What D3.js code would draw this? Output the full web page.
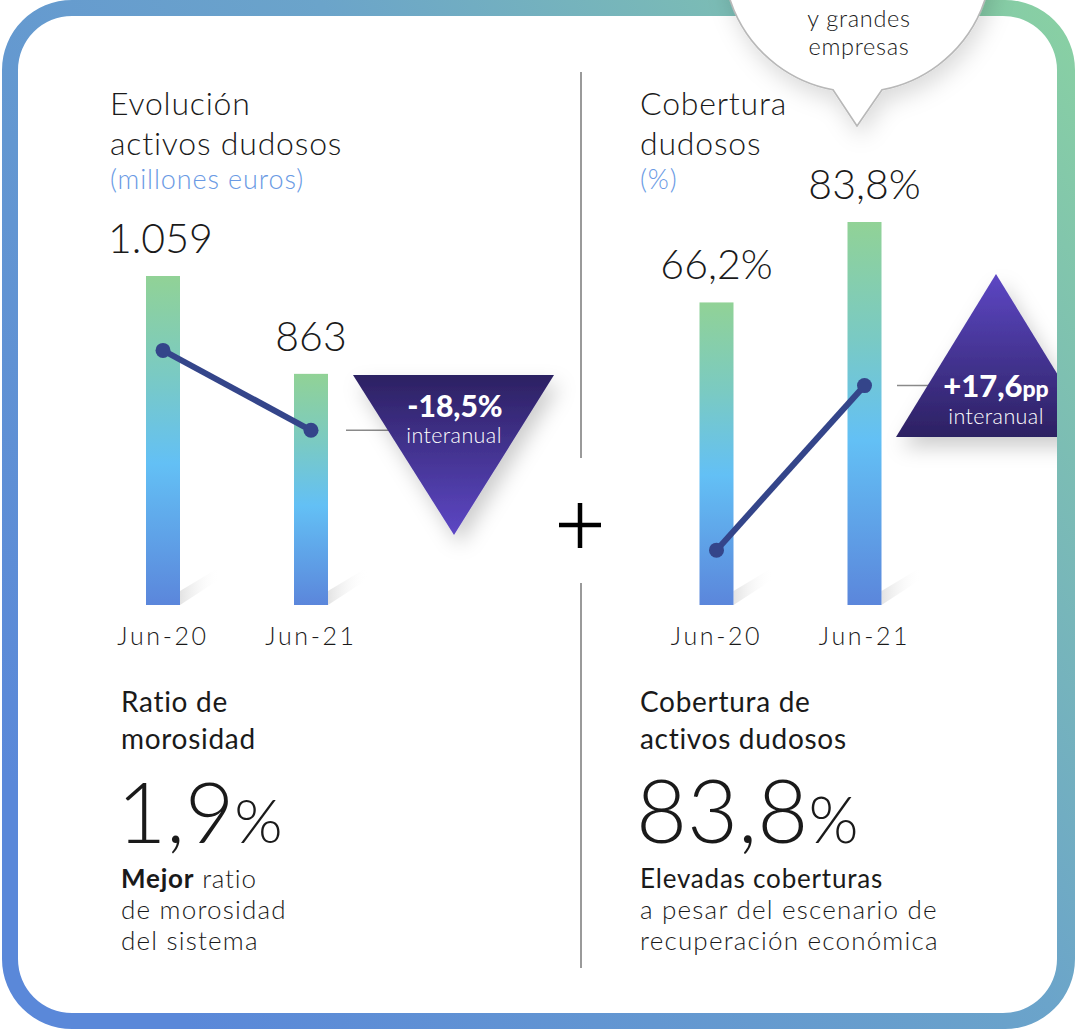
<!DOCTYPE html>
<html>
<head>
<meta charset="utf-8">
<script src="https://cdn.jsdelivr.net/npm/d3@7/dist/d3.min.js"></script>
<style>
  html, body { margin: 0; padding: 0; background: #ffffff; }
  svg { display: block; }
  text { font-family: Lato, "Open Sans", sans-serif; }
</style>
</head>
<body>
<svg id="chart" width="1076" height="1030"></svg>
<script>
// ---------------- DATA ----------------
const categories = ["Jun-20", "Jun-21"];
const activosDudosos = [1059, 863];            // millones euros
const activosLabels = ["1.059", "863"];
const activosTrend = [910, 750];               // dot positions (same scale)
const coberturaDudosos = [66.2, 83.8];         // %
const coberturaLabels = ["66,2%", "83,8%"];
const coberturaTrend = [12, 48];               // dot positions (same scale)
const variationActivos = ["-18,5%", "interanual"];
const variationCobertura = ["+17,6", "pp", "interanual"];
const leftTitle = ["Evolución", "activos dudosos"];
const leftUnit = "(millones euros)";
const rightTitle = ["Cobertura", "dudosos"];
const rightUnit = "(%)";
const leftKpiTitle = ["Ratio de", "morosidad"];
const leftKpiValue = ["1,9", "%"];
const leftKpiNote = [["Mejor", " ratio"], ["", "de morosidad"], ["", "del sistema"]];
const rightKpiTitle = ["Cobertura de", "activos dudosos"];
const rightKpiValue = ["83,8", "%"];
const rightKpiNote = [["Elevadas coberturas", ""], ["", "a pesar del escenario de"], ["", "recuperación económica"]];
const bubbleText = ["y grandes", "empresas"];

// ---------------- SETUP ----------------
const svg = d3.select("#chart");
const W = 1076, H = 1030;
const defs = svg.append("defs");

function rr(x, y, w, h, r) {
  return `M${x + r},${y}H${x + w - r}A${r},${r} 0 0 1 ${x + w},${y + r}V${y + h - r}A${r},${r} 0 0 1 ${x + w - r},${y + h}H${x + r}A${r},${r} 0 0 1 ${x},${y + h - r}V${y + r}A${r},${r} 0 0 1 ${x + r},${y}Z`;
}

// gradients
const frameGrad = defs.append("linearGradient").attr("id", "frameGrad")
  .attr("x1", 0).attr("y1", 0.75).attr("x2", 1).attr("y2", 0.05);
frameGrad.append("stop").attr("offset", "0%").attr("stop-color", "#5a88d9");
frameGrad.append("stop").attr("offset", "55%").attr("stop-color", "#6ba4ca");
frameGrad.append("stop").attr("offset", "100%").attr("stop-color", "#88cfa4");

const barGrad = defs.append("linearGradient").attr("id", "barGrad")
  .attr("x1", 0).attr("y1", 0).attr("x2", 0).attr("y2", 1);
barGrad.append("stop").attr("offset", "0%").attr("stop-color", "#91d296");
barGrad.append("stop").attr("offset", "30%").attr("stop-color", "#7acac3");
barGrad.append("stop").attr("offset", "57%").attr("stop-color", "#63c0f5");
barGrad.append("stop").attr("offset", "100%").attr("stop-color", "#5b86db");

const triDown = defs.append("linearGradient").attr("id", "triDown")
  .attr("x1", 0).attr("y1", 0).attr("x2", 0).attr("y2", 1);
triDown.append("stop").attr("offset", "0%").attr("stop-color", "#2c2162");
triDown.append("stop").attr("offset", "100%").attr("stop-color", "#5d47c4");
const triUp = defs.append("linearGradient").attr("id", "triUp")
  .attr("x1", 0).attr("y1", 0).attr("x2", 0).attr("y2", 1);
triUp.append("stop").attr("offset", "0%").attr("stop-color", "#5d47c4");
triUp.append("stop").attr("offset", "100%").attr("stop-color", "#2c2162");

const shGrad = defs.append("linearGradient").attr("id", "shGrad")
  .attr("x1", 0).attr("y1", 0).attr("x2", 1).attr("y2", 0);
shGrad.append("stop").attr("offset", "0%").attr("stop-color", "#dcdcdc").attr("stop-opacity", 0.8);
shGrad.append("stop").attr("offset", "100%").attr("stop-color", "#ffffff").attr("stop-opacity", 0);

const shadow = defs.append("filter").attr("id", "shadow")
  .attr("x", "-50%").attr("y", "-50%").attr("width", "200%").attr("height", "200%");
shadow.append("feDropShadow").attr("dx", 6).attr("dy", 10).attr("stdDeviation", 10)
  .attr("flood-color", "#000").attr("flood-opacity", 0.2);
const bshadow = defs.append("filter").attr("id", "bshadow")
  .attr("x", "-50%").attr("y", "-50%").attr("width", "200%").attr("height", "200%");
bshadow.append("feDropShadow").attr("dx", 4).attr("dy", 10).attr("stdDeviation", 11)
  .attr("flood-color", "#000").attr("flood-opacity", 0.14);

defs.append("clipPath").attr("id", "innerClip")
  .append("path").attr("d", rr(18, 16, 1039, 997, 54));

// background
svg.append("rect").attr("width", W).attr("height", H).attr("fill", "#fff");
const content = svg.append("g").attr("clip-path", "url(#innerClip)");

// ---------------- PANELS ----------------
const baseY = 605;
function panel(opts) {
  const g = content.append("g");
  const x = d3.scalePoint().domain(categories).range(opts.xRange);
  const y = d3.scaleLinear().domain(opts.domain).range([baseY, opts.topY]);
  const bw = 34;
  const rows = categories.map((c, i) => ({ c, v: opts.values[i], lab: opts.labels[i], t: opts.trend[i] }));

  // bar floor shadows
  g.selectAll("path.bsh").data(rows).join("path")
    .attr("d", d => {
      const xr = x(d.c) + bw / 2;
      return `M${xr},${baseY}L${xr + 40},${baseY - 26}L${xr + 40},${baseY - 38}L${xr},${baseY - 14}Z`;
    })
    .attr("fill", "url(#shGrad)");

  // bars
  g.selectAll("rect.bar").data(rows).join("rect")
    .attr("x", d => x(d.c) - bw / 2)
    .attr("y", d => y(d.v))
    .attr("width", bw)
    .attr("height", d => baseY - y(d.v))
    .attr("fill", "url(#barGrad)");

  // value labels
  g.selectAll("text.val").data(rows).join("text")
    .attr("x", (d, i) => i === 0 && opts.firstLeft ? opts.firstLeft : x(d.c))
    .attr("y", d => y(d.v) - 23)
    .attr("text-anchor", (d, i) => i === 0 && opts.firstLeft ? "start" : "middle")
    .attr("font-size", 41).attr("font-weight", 300).attr("fill", "#1a1a1a")
    .text(d => d.lab);

  // category axis labels
  g.selectAll("text.cat").data(rows).join("text")
    .attr("x", d => x(d.c)).attr("y", 645)
    .attr("text-anchor", "middle")
    .attr("font-size", 25).attr("font-weight", 300).attr("letter-spacing", 2.6).attr("fill", "#1a1a1a")
    .text(d => d.c);

  // trend line + dots
  const line = d3.line().x(d => x(d.c)).y(d => y(d.t));
  g.append("path").datum(rows).attr("d", line)
    .attr("fill", "none").attr("stroke", "#34458a").attr("stroke-width", 6);
  g.selectAll("circle.dot").data(rows).join("circle")
    .attr("cx", d => x(d.c)).attr("cy", d => y(d.t)).attr("r", 7.5)
    .attr("fill", "#34458a");

  return { x, y, rows };
}

const L = panel({ xRange: [163, 311], domain: [400, 1059], topY: 276,
  values: activosDudosos, labels: activosLabels, trend: activosTrend, firstLeft: 108 });
const R = panel({ xRange: [716.5, 864.5], domain: [0, 83.8], topY: 222,
  values: coberturaDudosos, labels: coberturaLabels, trend: coberturaTrend });

// ---------------- VARIATION TRIANGLES ----------------
const lyConn = L.y(activosTrend[1]);
content.append("line").attr("x1", 346).attr("x2", 410).attr("y1", lyConn).attr("y2", lyConn)
  .attr("stroke", "#8a8a8a").attr("stroke-width", 1.5);
content.append("path").attr("d", "M353,375L554,375L454,535Z")
  .attr("fill", "url(#triDown)").attr("filter", "url(#shadow)");
content.append("text").attr("x", 455).attr("y", 417).attr("text-anchor", "middle")
  .attr("font-size", 30).attr("font-weight", 900).attr("fill", "#fff").text(variationActivos[0]);
content.append("text").attr("x", 454).attr("y", 443).attr("text-anchor", "middle")
  .attr("font-size", 21.5).attr("font-weight", 300).attr("letter-spacing", 0.4).attr("fill", "#fff").text(variationActivos[1]);

const ryConn = R.y(coberturaTrend[1]);
content.append("line").attr("x1", 897).attr("x2", 950).attr("y1", ryConn).attr("y2", ryConn)
  .attr("stroke", "#8a8a8a").attr("stroke-width", 1.5);
content.append("path").attr("d", "M996,274L1096,437L896,437Z")
  .attr("fill", "url(#triUp)").attr("filter", "url(#shadow)");
const vt = content.append("text").attr("x", 996).attr("y", 397).attr("text-anchor", "middle")
  .attr("font-weight", 900).attr("fill", "#fff");
vt.append("tspan").attr("font-size", 31).text(variationCobertura[0]);
vt.append("tspan").attr("font-size", 23).text(variationCobertura[1]);
content.append("text").attr("x", 996).attr("y", 424).attr("text-anchor", "middle")
  .attr("font-size", 21.5).attr("font-weight", 300).attr("letter-spacing", 0.4).attr("fill", "#fff").text(variationCobertura[2]);

// ---------------- DIVIDER & PLUS ----------------
content.append("line").attr("x1", 581).attr("x2", 581).attr("y1", 72).attr("y2", 458)
  .attr("stroke", "#9a9a9a").attr("stroke-width", 2);
content.append("line").attr("x1", 581).attr("x2", 581).attr("y1", 583).attr("y2", 968)
  .attr("stroke", "#9a9a9a").attr("stroke-width", 2);
content.append("line").attr("x1", 559).attr("x2", 601).attr("y1", 525).attr("y2", 525)
  .attr("stroke", "#000").attr("stroke-width", 4.5);
content.append("line").attr("x1", 580).attr("x2", 580).attr("y1", 503).attr("y2", 548)
  .attr("stroke", "#000").attr("stroke-width", 4.5);

// ---------------- TITLES ----------------
function title(x, lines, unit) {
  lines.forEach((t, i) => {
    content.append("text").attr("x", x).attr("y", 115 + i * 40)
      .attr("font-size", 32).attr("font-weight", 300).attr("letter-spacing", 0.8)
      .attr("fill", "#1a1a1a").text(t);
  });
  content.append("text").attr("x", x).attr("y", 189)
    .attr("font-size", 27).attr("font-weight", 300).attr("letter-spacing", 0.9)
    .attr("fill", "#6a9ae4").text(unit);
}
title(110, leftTitle, leftUnit);
title(640, rightTitle, rightUnit);

// ---------------- KPI BLOCKS ----------------
function kpi(x, ttl, val, note, valSize) {
  ttl.forEach((t, i) => {
    content.append("text").attr("x", x).attr("y", 712 + i * 37)
      .attr("font-size", 28).attr("font-weight", 400).attr("letter-spacing", 0.7)
      .attr("fill", "#1a1a1a").text(t);
  });
  const v = content.append("text").attr("x", x - 4).attr("y", 843).attr("fill", "#1a1a1a");
  v.append("tspan").attr("font-size", valSize).attr("font-weight", 300).text(val[0]);
  v.append("tspan").attr("font-size", valSize * 0.73).attr("font-weight", 300).text(val[1]);
  note.forEach((n, i) => {
    const t = content.append("text").attr("x", x).attr("y", 888 + i * 31)
      .attr("font-size", 26).attr("letter-spacing", n[0] ? 0.8 : 1.2).attr("fill", "#1a1a1a");
    if (n[0]) t.append("tspan").attr("font-weight", i === 0 && n[1] ? 700 : 400).text(n[0]);
    if (n[1]) t.append("tspan").attr("font-weight", 300).text(n[1]);
  });
}
kpi(121, leftKpiTitle, leftKpiValue, leftKpiNote, 85);
kpi(640, rightKpiTitle, rightKpiValue, rightKpiNote, 88);

// ---------------- FRAME ----------------
svg.append("path")
  .attr("d", rr(2, 0, 1073, 1029, 70) + rr(18, 16, 1039, 997, 54))
  .attr("fill-rule", "evenodd")
  .attr("fill", "url(#frameGrad)");

// ---------------- BUBBLE ----------------
const bcx = 857.5, bcy = -42.3, br = 134.3;
const bx1 = 833, bx2 = 882;
const by1 = bcy + Math.sqrt(br * br - (bx1 - bcx) ** 2);
const by2 = bcy + Math.sqrt(br * br - (bx2 - bcx) ** 2);
svg.append("path")
  .attr("d", `M${bx1},${by1}L857,126L${bx2},${by2}A${br},${br} 0 1 0 ${bx1},${by1}Z`)
  .attr("fill", "#fff").attr("stroke", "#b8b8b8").attr("stroke-width", 1.6)
  .attr("filter", "url(#bshadow)");
bubbleText.forEach((t, i) => {
  svg.append("text").attr("x", 859).attr("y", 27 + i * 28).attr("text-anchor", "middle")
    .attr("font-size", 23.5).attr("font-weight", 300).attr("letter-spacing", 0.7)
    .attr("fill", "#1a1a1a").text(t);
});
</script>
</body>
</html>
